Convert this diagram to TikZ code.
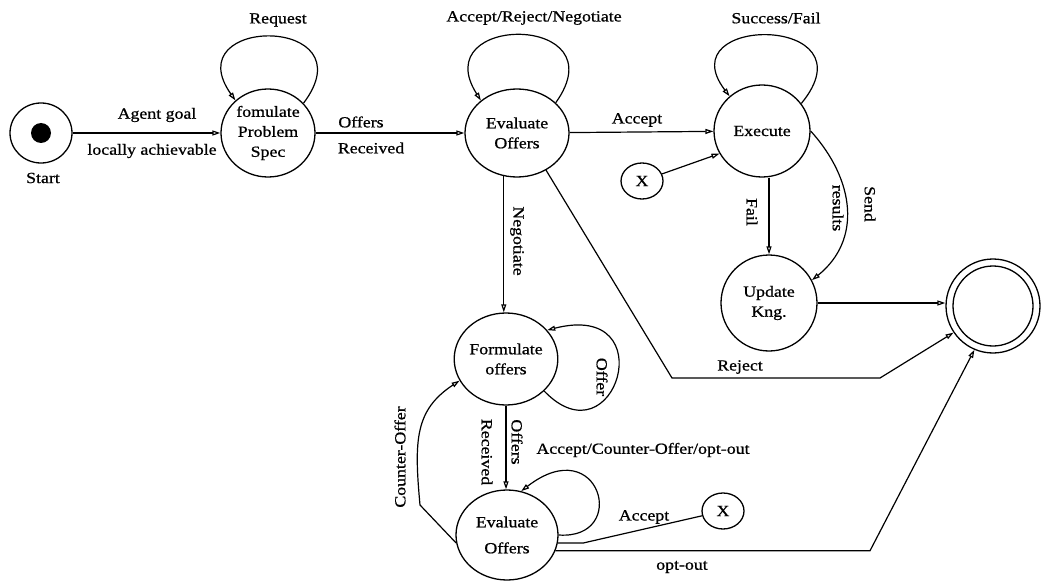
\documentclass[tikz,border=0pt]{standalone}
\usepackage{fontspec}
\setmainfont[FakeStretch=1.15,FakeBold=0.8]{Liberation Serif}
\usetikzlibrary{shapes.geometric,arrows.meta}
\begin{document}
\begin{tikzpicture}[x=1pt,y=-1pt,
  every node/.style={font=\fontsize{15.5}{20}\selectfont},
  state/.style={draw, ellipse, line width=1.3pt, inner sep=0pt, align=center},
  lbl/.style={inner sep=0pt},
  tr/.style={draw, line width=1.2pt, -{Triangle[open,length=8pt,width=5pt]}},
  ln/.style={draw, line width=1.2pt}]
\useasboundingbox (0,0) rectangle (1041,588);

% states
\node[state, minimum width=62pt, minimum height=60pt] (start) at (41,133) {};
\node[circle, fill, minimum size=20pt, inner sep=0pt] (startdot) at (start) {};
\node[lbl] (startlbl) at (43,178) {Start};
\node[state, minimum width=94pt, minimum height=88pt] (fps) at (268,133) {fomulate\\Problem\\Spec};
\node[state, minimum width=104pt, minimum height=88pt] (evt) at (517,133) {Evaluate\\Offers};
\node[state, minimum width=96pt, minimum height=92pt] (exe) at (762,131) {Execute};
\node[state, minimum width=42pt, minimum height=36pt] (xa) at (642,181) {X};
\node[state, minimum width=96pt, minimum height=96pt] (upd) at (769,303) {Update\\Kng.};
\node[state, minimum width=94pt, minimum height=94pt] (fin) at (993,306) {};
\node[state, minimum width=80pt, minimum height=80pt] (finin) at (fin) {};
\node[state, minimum width=98pt, minimum height=92pt] (fo) at (506,359) {Formulate\\offers};
\node[state, minimum width=102pt, minimum height=90pt] (evb) at (507,535) {Evaluate\\[6pt]Offers};
\node[state, minimum width=42pt, minimum height=36pt] (xb) at (723,511) {X};

% bend points
\coordinate (rj1) at (672,378);
\coordinate (rj2) at (880,378);
\coordinate (co1) at (420,505);
\coordinate (ac1) at (583,0);
\coordinate (oo1) at (870,0);

% transitions
\draw[tr] (start) -- (fps);
\draw[tr] (fps) -- (evt);
\draw[tr] (evt) -- (exe);
\draw[tr] (xa) -- (exe.208);
\draw[tr] (upd.north |- exe.south) -- (upd.north);
\draw[tr] (exe.east) .. controls (855,180) and (862,240) .. (upd.28);
\draw[tr] (upd.east) -- (upd.east -| fin.west);
\draw[tr] (evt.253) -- (evt.253 |- fo.north);
\draw[tr] (evt.308) -- (rj1) -- (rj2) -- (fin.214);
\draw[tr] (fo.south) -- (fo.south |- evb.north);
\draw[tr] (evb.189) -- (co1) .. controls (414,440) and (415,410) .. (fo.205);
\draw[ln] (evb.-9) -- (evb.-9 -| ac1) -- (xb);
\draw[tr] (evb.-18) -- (evb.-18 -| oo1) -- (fin.247);

% self loops
\draw[tr] (fps.40) .. controls (370,15) and (175,15) .. (fps.135);
\draw[tr] (evt.38) .. controls (620,13) and (425,13) .. (evt.138);
\draw[tr] (exe.35) .. controls (875,14) and (667,14) .. (exe.133);
\draw[tr] (fo.-40) .. controls (615,465) and (665,300) .. (fo.35);
\draw[tr] (evb.east) .. controls (630,540) and (600,430) .. (evb.72);

% labels
\node[lbl] (lagent) at (157,115) {Agent goal};
\node[lbl] (lloc) at (152,151) {locally achievable};
\node[lbl] (lreq) at (278,20) {Request};
\node[lbl] (loff) at (361,122) {Offers};
\node[lbl] (lrec) at (371,148) {Received};
\node[lbl] (larn) at (534,18) {Accept/Reject/Negotiate};
\node[lbl] (lacc) at (637,120) {Accept};
\node[lbl] (lsf) at (776,18) {Success/Fail};
\node[lbl, rotate=-90] (lfail) at (752,212) {Fail};
\node[lbl, rotate=-90] (lsend) at (870,204) {Send};
\node[lbl, rotate=-90] (lres) at (838,208) {results};
\node[lbl, rotate=-90] (lneg) at (517,241) {Negotiate};
\node[lbl] (lrej) at (740,367) {Reject};
\node[lbl, rotate=-90] (loffer) at (602,377) {Offer};
\node[lbl, rotate=-90] (loffs) at (517,442) {Offers};
\node[lbl, rotate=-90] (lrecv) at (487,452) {Received};
\node[lbl, rotate=90] (lco) at (400,457) {Counter-Offer};
\node[lbl] (lacco) at (643,450) {Accept/Counter-Offer/opt-out};
\node[lbl] (lacc2) at (644,517) {Accept};
\node[lbl] (lopt) at (682,567) {opt-out};
\end{tikzpicture}
\end{document}
